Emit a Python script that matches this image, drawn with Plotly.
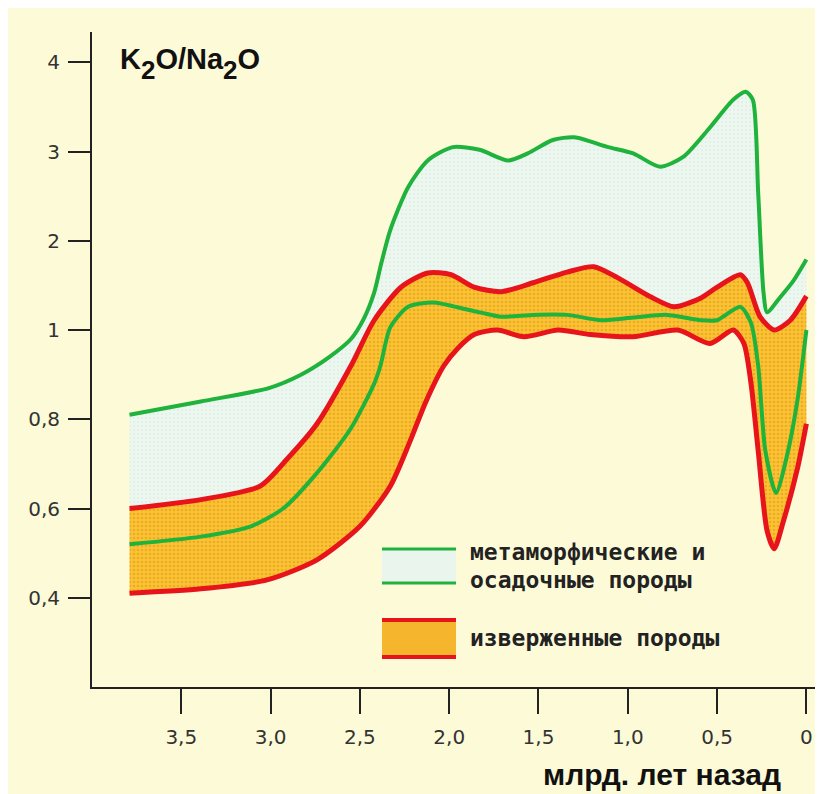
import numpy as np
import plotly.graph_objects as go

# value axis: equal steps for 0.4-0.6-0.8-1-2-3-4
tick_vals = [0.4, 0.6, 0.8, 1, 2, 3, 4]
tick_text = ['0,4', '0,6', '0,8', '1', '2', '3', '4']
age_ticks = [3.5, 3.0, 2.5, 2.0, 1.5, 1.0, 0.5, 0]
age_text = ['3,5', '3,0', '2,5', '2,0', '1,5', '1,0', '0,5', '0']

# metamorphic & sedimentary rocks (green band)
green_top_age = [3.79, 3.39, 3.01, 2.83, 2.67, 2.55, 2.48, 2.42, 2.38, 2.33, 2.23, 2.12,
                 1.98, 1.83, 1.67, 1.56, 1.42, 1.30, 1.11, 0.97, 0.82, 0.69, 0.54, 0.41,
                 0.34, 0.30, 0.27, 0.24, 0.22, 0.15, 0.07, 0.0]
green_top_val = [0.81, 0.84, 0.87, 0.90, 0.94, 0.98, 1.12, 1.42, 1.75, 2.12, 2.60, 2.90,
                 3.05, 3.02, 2.90, 2.98, 3.13, 3.16, 3.05, 2.98, 2.83, 2.94, 3.27, 3.58,
                 3.67, 3.58, 2.54, 1.42, 1.20, 1.36, 1.56, 1.79]
green_bot_age = [3.79, 3.39, 3.11, 2.93, 2.74, 2.55, 2.42, 2.385, 2.33, 2.23, 2.09, 1.90,
                 1.81, 1.71, 1.53, 1.34, 1.15, 0.97, 0.78, 0.59, 0.50, 0.37, 0.31, 0.27,
                 0.23, 0.17, 0.11, 0.05, 0.0]
green_bot_val = [0.52, 0.537, 0.56, 0.60, 0.68, 0.78, 0.88, 0.92, 1.03, 1.26, 1.31, 1.23,
                 1.19, 1.15, 1.17, 1.17, 1.11, 1.14, 1.17, 1.11, 1.11, 1.26, 1.08, 0.92,
                 0.73, 0.635, 0.716, 0.843, 1.0]

# igneous rocks (red band)
red_top_age = [3.79, 3.39, 3.06, 2.91, 2.74, 2.55, 2.42, 2.27, 2.12, 1.99, 1.86, 1.71,
               1.53, 1.34, 1.19, 1.06, 0.87, 0.74, 0.59, 0.50, 0.37, 0.33, 0.26, 0.18,
               0.09, 0.0]
red_top_val = [0.60, 0.62, 0.65, 0.71, 0.79, 0.92, 1.11, 1.48, 1.64, 1.62, 1.48, 1.43,
               1.53, 1.65, 1.71, 1.59, 1.37, 1.26, 1.36, 1.48, 1.62, 1.53, 1.15, 1.00,
               1.11, 1.38]
red_bot_age = [3.79, 3.39, 3.02, 2.74, 2.50, 2.33, 2.22, 2.13, 2.03, 1.95, 1.86, 1.73,
               1.58, 1.39, 1.21, 0.97, 0.72, 0.54, 0.41, 0.35, 0.31, 0.27, 0.22, 0.18,
               0.13, 0.05, 0.0]
red_bot_val = [0.41, 0.42, 0.44, 0.485, 0.56, 0.65, 0.75, 0.84, 0.92, 0.96, 0.99, 1.00,
               0.985, 1.00, 0.99, 0.985, 1.00, 0.97, 1.00, 0.97, 0.88, 0.73, 0.55, 0.51,
               0.57, 0.69, 0.79]

GREEN = '#1fb23c'
RED = '#e8141c'
BG = '#fdfad8'
light_fill = dict(shape='.', bgcolor='#eef7ef', fgcolor='#d3ebe4', size=4, solidity=0.35)
orange_fill = dict(shape='.', bgcolor='#f7c530', fgcolor='#ee8a28', size=4, solidity=0.35)


def to_axis(v):
    return np.interp(v, tick_vals, np.arange(len(tick_vals)))


def curve(age, val, **kw):
    return go.Scatter(x=age, y=to_axis(val), mode='lines', line_shape='spline',
                      hoverinfo='skip', showlegend=False, **kw)


fig = go.Figure()

# fills first
fig.add_trace(curve(green_bot_age, green_bot_val, line=dict(width=0, smoothing=0.7)))
fig.add_trace(curve(green_top_age, green_top_val, line=dict(width=0, smoothing=0.7),
                    fill='tonexty', fillcolor='#eef7ef', fillpattern=light_fill))
fig.add_trace(curve(red_bot_age, red_bot_val, line=dict(width=0, smoothing=0.7)))
fig.add_trace(curve(red_top_age, red_top_val, line=dict(width=0, smoothing=0.7),
                    fill='tonexty', fillcolor='#f7c530', fillpattern=orange_fill))

# outlines on top
fig.add_trace(curve(green_top_age, green_top_val, line=dict(color=GREEN, width=4, smoothing=0.7)))
fig.add_trace(curve(red_top_age, red_top_val, line=dict(color=RED, width=5, smoothing=0.7)))
fig.add_trace(curve(red_bot_age, red_bot_val, line=dict(color=RED, width=5, smoothing=0.7)))
fig.add_trace(curve(green_bot_age, green_bot_val, line=dict(color=GREEN, width=4, smoothing=0.7)))


# hand-drawn legend, positions in page pixels -> paper
def px_x(x):
    return (x - 92) / 731


def px_y(y):
    return (687 - y) / 655


shapes = [
    dict(type='rect', xref='paper', yref='paper', x0=px_x(382), x1=px_x(456),
         y0=px_y(583), y1=px_y(549), fillcolor='#eaf5ee', line_width=0),
    dict(type='line', xref='paper', yref='paper', x0=px_x(382), x1=px_x(456),
         y0=px_y(549), y1=px_y(549), line=dict(color=GREEN, width=3)),
    dict(type='line', xref='paper', yref='paper', x0=px_x(382), x1=px_x(456),
         y0=px_y(583), y1=px_y(583), line=dict(color=GREEN, width=3)),
    dict(type='rect', xref='paper', yref='paper', x0=px_x(382), x1=px_x(456),
         y0=px_y(657), y1=px_y(620), fillcolor='#f5b52c', line_width=0),
    dict(type='line', xref='paper', yref='paper', x0=px_x(382), x1=px_x(456),
         y0=px_y(620), y1=px_y(620), line=dict(color=RED, width=4)),
    dict(type='line', xref='paper', yref='paper', x0=px_x(382), x1=px_x(456),
         y0=px_y(657), y1=px_y(657), line=dict(color=RED, width=4)),
]

legend_font = dict(family='DejaVu Sans Mono', size=23, color='#222', weight='bold')
sub2 = '<sub><sub><span style="font-size:26px">2</span></sub></sub>'
annotations = [
    dict(text='метаморфические и', x=px_x(468), y=px_y(552), xref='paper', yref='paper',
         xanchor='left', yanchor='middle', showarrow=False, font=legend_font),
    dict(text='осадочные породы', x=px_x(468), y=px_y(580), xref='paper', yref='paper',
         xanchor='left', yanchor='middle', showarrow=False, font=legend_font),
    dict(text='изверженные породы', x=px_x(468), y=px_y(638), xref='paper', yref='paper',
         xanchor='left', yanchor='middle', showarrow=False, font=legend_font),
    dict(text='K' + sub2 + 'O/Na' + sub2 + 'O',
         x=px_x(118), y=px_y(64), xref='paper',
         yref='paper', xanchor='left', yanchor='middle', showarrow=False,
         font=dict(family='Liberation Sans', size=29, color='#111', weight='bold')),
    dict(text='млрд. лет назад', x=px_x(783), y=px_y(774), xref='paper', yref='paper',
         xanchor='right', yanchor='middle', showarrow=False,
         font=dict(family='Liberation Sans', size=30, color='#111', weight='bold')),
]

# page has an 8px body margin, so the figure is 8px smaller than the window
fig.update_layout(
    width=815, height=786,
    margin=dict(l=84, r=0, t=24, b=107),
    paper_bgcolor=BG, plot_bgcolor=BG,
    shapes=shapes, annotations=annotations,
    xaxis=dict(range=[4.0, -0.093], tickvals=age_ticks, ticktext=age_text,
               ticks='outside', ticklen=25, tickwidth=2, tickcolor='#222',
               showline=True, linewidth=2, linecolor='#222', showgrid=False,
               zeroline=False, ticklabelstandoff=6,
               tickfont=dict(family='DejaVu Sans', size=20, color='#333')),
    yaxis=dict(range=[-1.0, 6.34], tickvals=list(range(len(tick_vals))), ticktext=tick_text,
               ticks='outside', ticklen=22, tickwidth=2, tickcolor='#222',
               showline=True, linewidth=2, linecolor='#222', showgrid=False,
               zeroline=False, ticklabelstandoff=4,
               tickfont=dict(family='DejaVu Sans', size=20, color='#333')),
)

fig.write_html("out.html")
